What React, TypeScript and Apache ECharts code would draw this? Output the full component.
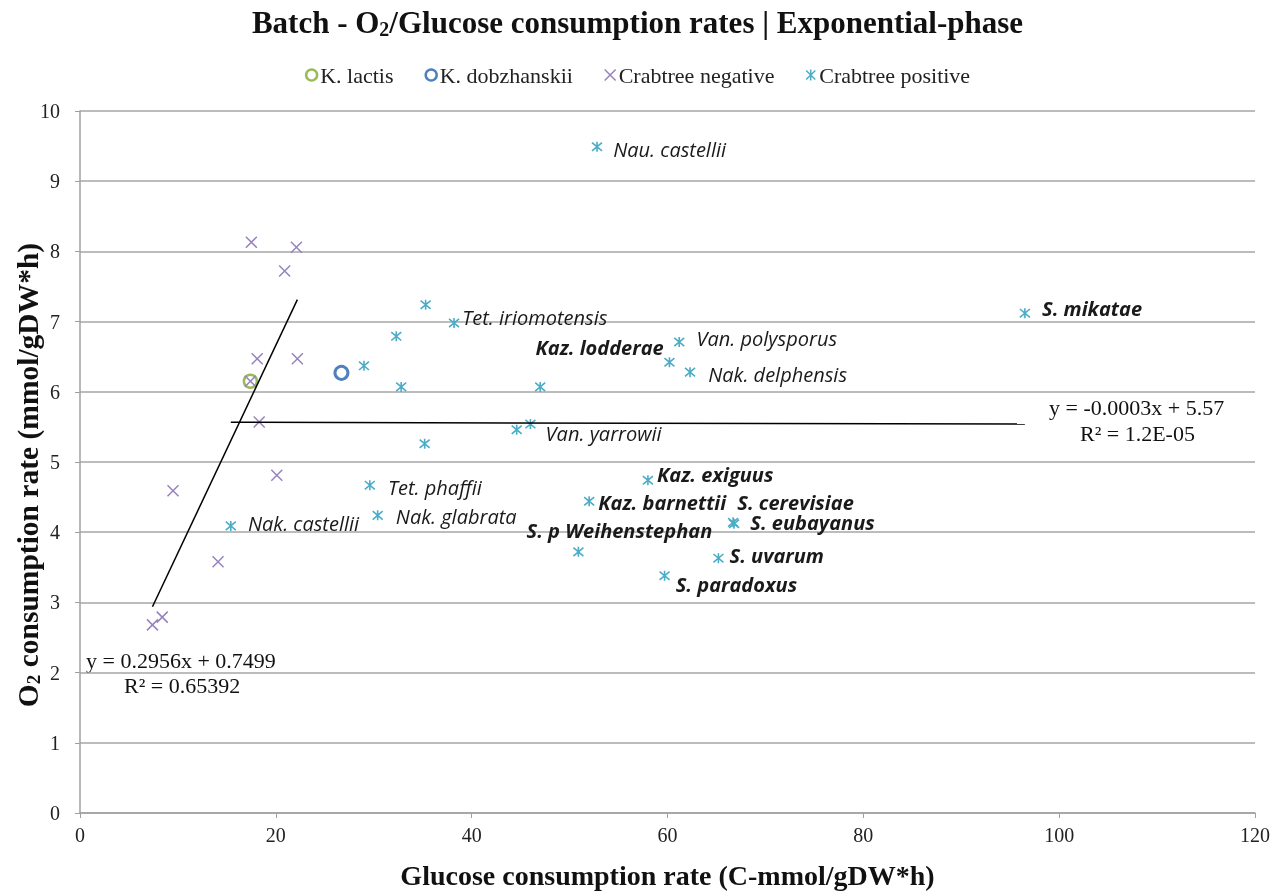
import React, { useEffect, useRef } from "react";
import * as echarts from "echarts";

const xTicks = { min: 0, max: 120, interval: 20 };
const yTicks = { min: 0, max: 10, interval: 1 };

const lactisPoint = [17.4, 6.15];
const dobzhanskiiPoint = [26.7, 6.27];

const negativeX = [17.5, 22.1, 20.9, 18.1, 22.2, 17.4, 18.3, 20.1, 9.5, 14.1, 8.4, 7.4];
const negativeY = [8.13, 8.06, 7.72, 6.47, 6.47, 6.15, 5.57, 4.81, 4.59, 3.58, 2.79, 2.68];

const positiveNames = [
  "Nau. castellii", "", "Tet. iriomotensis", "", "", "", "", "", "", "Van. yarrowii",
  "Kaz. lodderae", "Van. polysporus", "Nak. delphensis", "Tet. phaffii", "Nak. glabrata",
  "Nak. castellii", "Kaz. exiguus", "Kaz. barnettii", "S. cerevisiae", "S. eubayanus",
  "S. p Weihenstephan", "S. uvarum", "S. paradoxus", "S. mikatae",
];
const positiveX = [52.8, 35.3, 38.2, 32.3, 29.0, 32.8, 47.0, 35.2, 44.6, 46.0, 60.2, 61.2, 62.3, 29.6, 30.4, 15.4, 58.0, 52.0, 66.7, 66.8, 50.9, 65.2, 59.7, 96.5];
const positiveY = [9.49, 7.24, 6.98, 6.79, 6.37, 6.07, 6.07, 5.26, 5.46, 5.54, 6.42, 6.71, 6.28, 4.67, 4.24, 4.09, 4.74, 4.44, 4.14, 4.12, 3.72, 3.63, 3.38, 7.12];

const negTrend = { slope: 0.2956, intercept: 0.7499, text: "y = 0.2956x + 0.7499", r2: "R² = 0.65392" };
const posTrend = { slope: -0.0003, intercept: 5.57, text: "y = -0.0003x + 5.57", r2: "R² = 1.2E-05" };

// label styling (layout only): dx = text start minus point, dy = text middle minus point
const boldNames = new Set([
  "Kaz. lodderae", "Kaz. exiguus", "Kaz. barnettii", "S. cerevisiae", "S. eubayanus",
  "S. p Weihenstephan", "S. uvarum", "S. paradoxus", "S. mikatae",
]);
const labelLayout: Record<string, { dx: number; dy: number; align?: string }> = {
  "Nau. castellii": { dx: 17, dy: 3 },
  "Tet. iriomotensis": { dx: 9, dy: -5 },
  "Van. yarrowii": { dx: 16, dy: 10 },
  "Kaz. lodderae": { dx: -5, dy: -14, align: "right" },
  "Van. polysporus": { dx: 18, dy: -3 },
  "Nak. delphensis": { dx: 19, dy: 3 },
  "Tet. phaffii": { dx: 19, dy: 3 },
  "Nak. glabrata": { dx: 19, dy: 2 },
  "Nak. castellii": { dx: 18, dy: -2 },
  "Kaz. exiguus": { dx: 10, dy: -5 },
  "Kaz. barnettii": { dx: 10, dy: 2 },
  "S. cerevisiae": { dx: 5, dy: -19 },
  "S. eubayanus": { dx: 17, dy: 0 },
  "S. p Weihenstephan": { dx: -51, dy: -21 },
  "S. uvarum": { dx: 12, dy: -2 },
  "S. paradoxus": { dx: 12, dy: 10 },
  "S. mikatae": { dx: 18, dy: -4 },
};

const GREEN = "#9BBB59";
const BLUE = "#4F81BD";
const PURPLE = "#9683BE";
const CYAN = "#4BACC6";
const SERIF = "'Liberation Serif', 'Times New Roman', serif";
const SANS = "'Open Sans', 'Noto Sans', sans-serif";

const X_PATH = "path://M0,0L10,10M10,0L0,10";
const STAR_PATH = "path://M0,0L10,10M10,0L0,10M5,-1L5,11";
const STAR_SIZE = 10;

export default function App() {
  const ref = useRef<HTMLDivElement>(null);
  useEffect(() => {
    if (!ref.current) return;
    document.body.style.margin = "0";
    const chart = echarts.init(ref.current, undefined, { renderer: "svg" });

    const negMin = Math.min(...negativeX);
    const negMax = Math.max(...negativeX);
    const posMin = Math.min(...positiveX);
    const posMax = Math.max(...positiveX);

    const positiveData = positiveX.map((x, i) => {
      const name = positiveNames[i];
      const item: any = { value: [x, positiveY[i]], name };
      if (name) {
        const lay = labelLayout[name] || { dx: 10, dy: 0 };
        item.label = {
          show: true,
          formatter: name,
          position: [lay.dx + STAR_SIZE / 2, lay.dy + STAR_SIZE / 2],
          align: lay.align || "left",
          verticalAlign: "middle",
          fontFamily: SANS,
          fontStyle: "italic",
          fontWeight: boldNames.has(name) ? "bold" : "normal",
          fontSize: 20,
          color: "#1a1a1a",
        };
      }
      return item;
    });

    chart.setOption({
      animation: false,
      title: {
        text: "{t|Batch - O}{s|2}{t|/Glucose consumption rates | Exponential-phase}",
        left: "center",
        top: 0,
        textStyle: {
          rich: {
            t: { fontFamily: SERIF, fontWeight: "bold", fontSize: 31, color: "#111" },
            s: { fontFamily: SERIF, fontWeight: "bold", fontSize: 20, color: "#111", verticalAlign: "bottom", padding: [14, 0, 0, 0] },
          },
        },
      },
      legend: {
        top: 59,
        left: "center",
        itemWidth: 11,
        itemHeight: 11,
        itemGap: 31,
        textStyle: { fontFamily: SERIF, fontSize: 22, color: "#222", padding: [0, 0, 0, -2] },
        data: [
          { name: "K. lactis", icon: "circle", itemStyle: { color: "transparent", borderColor: GREEN, borderWidth: 2.5 } },
          { name: "K. dobzhanskii", icon: "circle", itemStyle: { color: "transparent", borderColor: BLUE, borderWidth: 2.5 } },
          { name: "Crabtree negative", icon: X_PATH, itemStyle: { color: "transparent", borderColor: PURPLE, borderWidth: 1.5 } },
          { name: "Crabtree positive", icon: STAR_PATH, itemStyle: { color: "transparent", borderColor: CYAN, borderWidth: 1.5 } },
        ],
      },
      grid: { left: 80, right: 20, top: 111, bottom: 79, containLabel: false, outerBoundsMode: "none" },
      xAxis: {
        type: "value",
        min: xTicks.min,
        max: xTicks.max,
        interval: xTicks.interval,
        name: "Glucose consumption rate (C-mmol/gDW*h)",
        nameLocation: "middle",
        nameGap: 48,
        nameMoveOverlap: false,
        nameTextStyle: { fontFamily: SERIF, fontWeight: "bold", fontSize: 28, color: "#111" },
        axisLine: { show: true, lineStyle: { color: "#A0A0A0", width: 1.5 } },
        axisTick: { show: true, length: 5, lineStyle: { color: "#A0A0A0" } },
        splitLine: { show: false },
        axisLabel: { fontFamily: SERIF, fontSize: 20, color: "#222", margin: 12 },
      },
      yAxis: {
        type: "value",
        min: yTicks.min,
        max: yTicks.max,
        interval: yTicks.interval,
        name: "{t|O}{s|2}{t| consumption rate (mmol/gDW*h)}",
        nameLocation: "middle",
        nameGap: 37,
        nameRotate: 90,
        nameMoveOverlap: false,
        nameTextStyle: {
          padding: [0, 26, 0, 0],
          rich: {
            t: { fontFamily: SERIF, fontWeight: "bold", fontSize: 29.5, color: "#111" },
            s: { fontFamily: SERIF, fontWeight: "bold", fontSize: 19, color: "#111", verticalAlign: "bottom", padding: [12, 0, 0, 0] },
          },
        },
        axisLine: { show: true, lineStyle: { color: "#A0A0A0", width: 1.5 } },
        axisTick: { show: true, length: 5, lineStyle: { color: "#A0A0A0" } },
        splitLine: { show: true, lineStyle: { color: "#A6A6A6", width: 1.5 } },
        axisLabel: { fontFamily: SERIF, fontSize: 20, color: "#222", margin: 20 },
      },
      series: [
        {
          name: "K. lactis",
          type: "scatter",
          symbol: "circle",
          symbolSize: 13,
          itemStyle: { color: "transparent", borderColor: GREEN, borderWidth: 2.5, opacity: 1 },
          data: [lactisPoint],
        },
        {
          name: "K. dobzhanskii",
          type: "scatter",
          symbol: "circle",
          symbolSize: 13,
          itemStyle: { color: "transparent", borderColor: BLUE, borderWidth: 3, opacity: 1 },
          data: [dobzhanskiiPoint],
        },
        {
          name: "Crabtree negative",
          type: "scatter",
          symbol: X_PATH,
          symbolSize: 11,
          itemStyle: { color: "transparent", borderColor: PURPLE, borderWidth: 1.5, opacity: 1 },
          data: negativeX.map((x, i) => [x, negativeY[i]]),
        },
        {
          name: "Crabtree positive",
          type: "scatter",
          symbol: STAR_PATH,
          symbolSize: STAR_SIZE,
          itemStyle: { color: "transparent", borderColor: CYAN, borderWidth: 1.6, opacity: 1 },
          data: positiveData,
        },
        {
          name: "negTrend",
          type: "line",
          symbol: "none",
          silent: true,
          lineStyle: { color: "#000", width: 1.5 },
          data: [
            [negMin, negTrend.slope * negMin + negTrend.intercept],
            [negMax, negTrend.slope * negMax + negTrend.intercept],
          ],
        },
        {
          name: "posTrend",
          type: "line",
          symbol: "none",
          silent: true,
          lineStyle: { color: "#000", width: 1.5 },
          data: [
            [posMin, posTrend.slope * posMin + posTrend.intercept],
            [posMax, posTrend.slope * posMax + posTrend.intercept],
          ],
        },
      ],
      graphic: [
        { type: "text", left: 86, top: 649, style: { text: negTrend.text, font: `22px ${SERIF}`, fill: "#111" } },
        { type: "text", left: 124, top: 674, style: { text: negTrend.r2, font: `22px ${SERIF}`, fill: "#111" } },
        { type: "text", left: 1049, top: 396, style: { text: posTrend.text, font: `22px ${SERIF}`, fill: "#111" } },
        { type: "text", left: 1080, top: 422, style: { text: posTrend.r2, font: `22px ${SERIF}`, fill: "#111" } },
      ],
    });
    return () => chart.dispose();
  }, []);
  return <div ref={ref} style={{ position: "fixed", left: 0, top: 0, width: 1275, height: 892 }} />;
}
